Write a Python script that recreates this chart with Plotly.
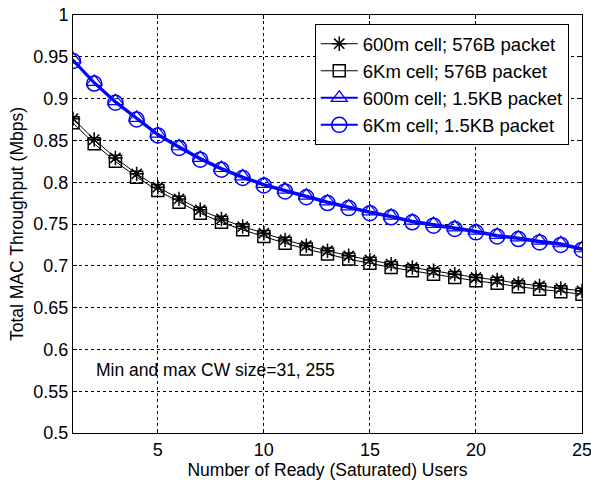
import plotly.graph_objects as go

users = list(range(1, 26))
s600_576 = [0.876, 0.851, 0.829, 0.810, 0.794, 0.780, 0.767, 0.756, 0.747, 0.739,
            0.731, 0.724, 0.718, 0.712, 0.707, 0.702, 0.698, 0.694, 0.690, 0.686,
            0.683, 0.679, 0.676, 0.673, 0.670]
s6k_576 = [0.871, 0.846, 0.825, 0.806, 0.790, 0.776, 0.763, 0.752, 0.743, 0.735,
           0.727, 0.720, 0.714, 0.708, 0.703, 0.698, 0.694, 0.690, 0.686, 0.682,
           0.679, 0.675, 0.672, 0.669, 0.666]
s600_15k = [0.947, 0.920, 0.897, 0.877, 0.858, 0.843, 0.829, 0.817, 0.807, 0.798,
            0.791, 0.784, 0.777, 0.771, 0.765, 0.760, 0.754, 0.750, 0.746, 0.742,
            0.737, 0.734, 0.730, 0.727, 0.721]
s6k_15k = [0.945, 0.918, 0.895, 0.875, 0.856, 0.841, 0.827, 0.815, 0.805, 0.796,
           0.789, 0.782, 0.775, 0.769, 0.763, 0.758, 0.752, 0.748, 0.744, 0.740,
           0.735, 0.732, 0.728, 0.725, 0.719]
names = ["600m cell; 576B packet", "6Km cell; 576B packet",
         "600m cell; 1.5KB packet", "6Km cell; 1.5KB packet"]
yticks = [0.5, 0.55, 0.6, 0.65, 0.7, 0.75, 0.8, 0.85, 0.9, 0.95, 1.0]
ytick_text = ["0.5", "0.55", "0.6", "0.65", "0.7", "0.75", "0.8", "0.85", "0.9", "0.95", "1"]
xticks = [5, 10, 15, 20, 25]

FONT = "Liberation Sans, Arial, sans-serif"
fig = go.Figure()
fig.add_trace(go.Scatter(x=users, y=s600_576, name=names[0], mode="lines+markers",
                         line=dict(color="black", width=1),
                         marker=dict(symbol="asterisk-open", size=12,
                                     line=dict(color="black", width=1.5))))
fig.add_trace(go.Scatter(x=users, y=s6k_576, name=names[1], mode="lines+markers",
                         line=dict(color="black", width=1),
                         marker=dict(symbol="square-open", size=12, color="black",
                                     line=dict(color="black", width=1.5))))
fig.add_trace(go.Scatter(x=users, y=s600_15k, name=names[2], mode="lines+markers",
                         line=dict(color="#0000ff", width=2),
                         marker=dict(symbol="triangle-up-open", size=14, color="#0000ff",
                                     line=dict(color="#0000ff", width=1.2))))
fig.add_trace(go.Scatter(x=users, y=s6k_15k, name=names[3], mode="lines+markers",
                         line=dict(color="#0000ff", width=2),
                         marker=dict(symbol="circle-open", size=15, color="#0000ff",
                                     line=dict(color="#0000ff", width=1.5))))

axis_common = dict(showline=True, linecolor="black", linewidth=1, mirror="ticks",
                   ticks="inside", ticklen=4, tickcolor="black",
                   showgrid=True, gridcolor="black", gridwidth=1, griddash="3px,3px",
                   zeroline=False, ticklabeloverflow="allow",
                   tickfont=dict(size=18, color="black", family=FONT))

fig.update_xaxes(range=[1, 25], tickvals=xticks, **axis_common,
                 title=dict(text="Number of Ready (Saturated) Users",
                            font=dict(size=17.5, color="black", family=FONT), standoff=4))
fig.update_yaxes(range=[0.5, 1.0], tickvals=yticks, ticktext=ytick_text, **axis_common,
                 title=dict(text="Total MAC Throughput (Mbps)",
                            font=dict(size=17.5, color="black", family=FONT), standoff=5))

fig.add_annotation(x=2.0, y=0.575, text="Min and max CW size=31, 255", showarrow=False,
                   xanchor="left", yanchor="middle",
                   font=dict(size=17.5, color="black", family=FONT))

fig.update_layout(
    width=591, height=481,
    margin=dict(l=73, r=9, t=15, b=48, autoexpand=False),
    paper_bgcolor="white", plot_bgcolor="white",
    showlegend=True,
    legend=dict(x=0.974, y=0.978, xanchor="right", yanchor="top",
                bgcolor="white", bordercolor="black", borderwidth=1,
                font=dict(size=18.5, color="black", family=FONT),
                itemwidth=37, tracegroupgap=0),
)

fig.write_html("out.html")
